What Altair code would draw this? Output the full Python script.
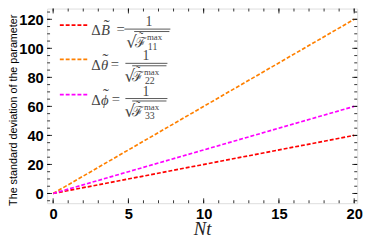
import altair as alt
import pandas as pd

# ---- data ----
series = ["B", "theta", "phi"]
nt_points = [0, 20]
sd_B = [0, 40]
sd_theta = [0, 120]
sd_phi = [0, 60]
colors = ["#ff0000", "#ff8000", "#ff00ff"]

x_major = [0, 5, 10, 15, 20]
x_minor = list(range(0, 21))
y_major = [0, 20, 40, 60, 80, 100, 120]
y_minor = list(range(-5, 126, 5))

legend_letter = ["B", "\u03b8", "\u03d5"]
legend_sub = ["11", "22", "33"]

rows = []
for s, vals in zip(series, [sd_B, sd_theta, sd_phi]):
    for n, v in zip(nt_points, vals):
        rows.append({"Nt": n, "value": v, "series": s})
df = pd.DataFrame(rows)

W, H = 317, 199

xscale = alt.Scale(domain=[-0.4, 20.2], nice=False, zero=False)
yscale = alt.Scale(domain=[-6.7, 127.4], nice=False, zero=False)

xaxis = alt.Axis(values=x_major, ticks=False, tickSize=0, domain=False, grid=False,
                 labelFont="Liberation Sans", labelFontWeight="bold", labelFontSize=15,
                 labelColor="black", labelPadding=4, title="Nt",
                 titleFont="Liberation Serif", titleFontStyle="italic", titleFontWeight="normal",
                 titleFontSize=19, titleColor="#222", titleY=26, titleBaseline="middle")
yaxis = alt.Axis(values=y_major, ticks=False, tickSize=0, domain=False, grid=False,
                 labelFont="Liberation Sans", labelFontWeight="bold", labelFontSize=15,
                 labelColor="black", labelPadding=4,
                 title="The standard deviation of the parameter",
                 titleFont="Liberation Sans", titleFontWeight="normal", titleFontSize=11,
                 titleColor="black", titleX=-34.5, titleY=H / 2 + 4,
                 titleAlign="center", titleBaseline="middle", titleAngle=270)

X = alt.X("Nt:Q", scale=xscale, axis=xaxis)
Y = alt.Y("value:Q", scale=yscale, axis=yaxis)

lines = alt.Chart(df).mark_line(strokeDash=[4, 2], strokeWidth=1.7).encode(
    x=X, y=Y,
    color=alt.Color("series:N", scale=alt.Scale(domain=series, range=colors), legend=None),
    detail="series:N",
)

def xticks(vals, length, top):
    d = pd.DataFrame({"Nt": vals})
    if top:
        yy, yy2 = alt.value(0), alt.value(length)
    else:
        yy, yy2 = alt.value(H), alt.value(H - length)
    return alt.Chart(d).mark_rule(color="black", strokeWidth=0.8).encode(x=X, y=yy, y2=yy2)

def yticks(vals, length, right):
    d = pd.DataFrame({"value": vals})
    if right:
        xx, xx2 = alt.value(W), alt.value(W - length)
    else:
        xx, xx2 = alt.value(0), alt.value(length)
    return alt.Chart(d).mark_rule(color="black", strokeWidth=0.8).encode(y=Y, x=xx, x2=xx2)

ticks = [
    xticks(x_major, 5, False), xticks(x_minor, 3, False),
    xticks(x_major, 5, True), xticks(x_minor, 3, True),
    yticks(y_major, 5, False), yticks(y_minor, 3, False),
    yticks(y_major, 5, True), yticks(y_minor, 3, True),
]

# ---- custom legend (layout per entry) ----
lay = [
    dict(dy=0, letw=10, eq=71, b1=79, b2=126, num=104, sq=81, v1=89, v2=125, fx=95, mx=101),
    dict(dy=35, letw=7, eq=65, b1=80, b2=123, num=101, sq=79, v1=87, v2=122, fx=92, mx=98),
    dict(dy=71, letw=8, eq=66, b1=80, b2=123, num=101, sq=79, v1=87, v2=122, fx=92, mx=98),
]
TXT = "#444"
one = pd.DataFrame({"k": [0]})

def txt(text, x, y, size, font="Liberation Serif", style="normal", align="left", baseline="alphabetic"):
    return alt.Chart(one).mark_text(text=text, font=font, fontStyle=style, fontSize=size, color=TXT,
                                    align=align, baseline=baseline).encode(x=alt.value(x), y=alt.value(y))

def rule(x1, x2, y, col=TXT, dash=None, w=1.0):
    kw = dict(color=col, strokeWidth=w)
    if dash:
        kw["strokeDash"] = dash
    return alt.Chart(one).mark_rule(**kw).encode(x=alt.value(x1), x2=alt.value(x2), y=alt.value(y))

legend_layers = []
for letter, sub, col, L in zip(legend_letter, legend_sub, colors, lay):
    dy = L["dy"]
    base = 27.5 + dy
    legend_layers.append(rule(13, 43, 17 + dy, col=col, dash=[4, 2], w=1.7))
    legend_layers.append(txt("\u0394", 45, base, 15))
    legend_layers.append(txt(letter, 55, base, 15, style="italic"))
    legend_layers.append(txt("\u02dc", 56 + L["letw"] / 2, base - 5, 18, align="center"))
    legend_layers.append(txt("=", L["eq"], base - 1, 15))
    legend_layers.append(rule(L["b1"], L["b2"], 21 + dy, w=0.9))
    legend_layers.append(txt("1", L["num"], 18 + dy, 14, align="center"))
    legend_layers.append(txt("\u221a", L["sq"], 40 + dy, 17, font="DejaVu Serif"))
    legend_layers.append(rule(L["v1"], L["v2"], 23.5 + dy, w=0.9))
    legend_layers.append(txt("\u2131", L["fx"], 39 + dy, 14, font="DejaVu Serif", align="center"))
    legend_layers.append(txt("\u02dc", L["fx"] + 1, 33 + dy, 13, align="center"))
    legend_layers.append(txt("max", L["mx"] + 1, 32.5 + dy, 9))
    legend_layers.append(txt(sub, L["mx"] + 2, 42 + dy, 10))

chart = alt.layer(lines, *ticks, *legend_layers).properties(
    width=W, height=H,
    autosize=alt.AutoSizeParams(type="none"),
    padding={"left": 40, "top": -2, "right": 9, "bottom": 33},
).configure_view(stroke="black", strokeWidth=1.2).configure(background="white")

chart.save("out.html", embed_options={"renderer": "svg", "actions": False})
